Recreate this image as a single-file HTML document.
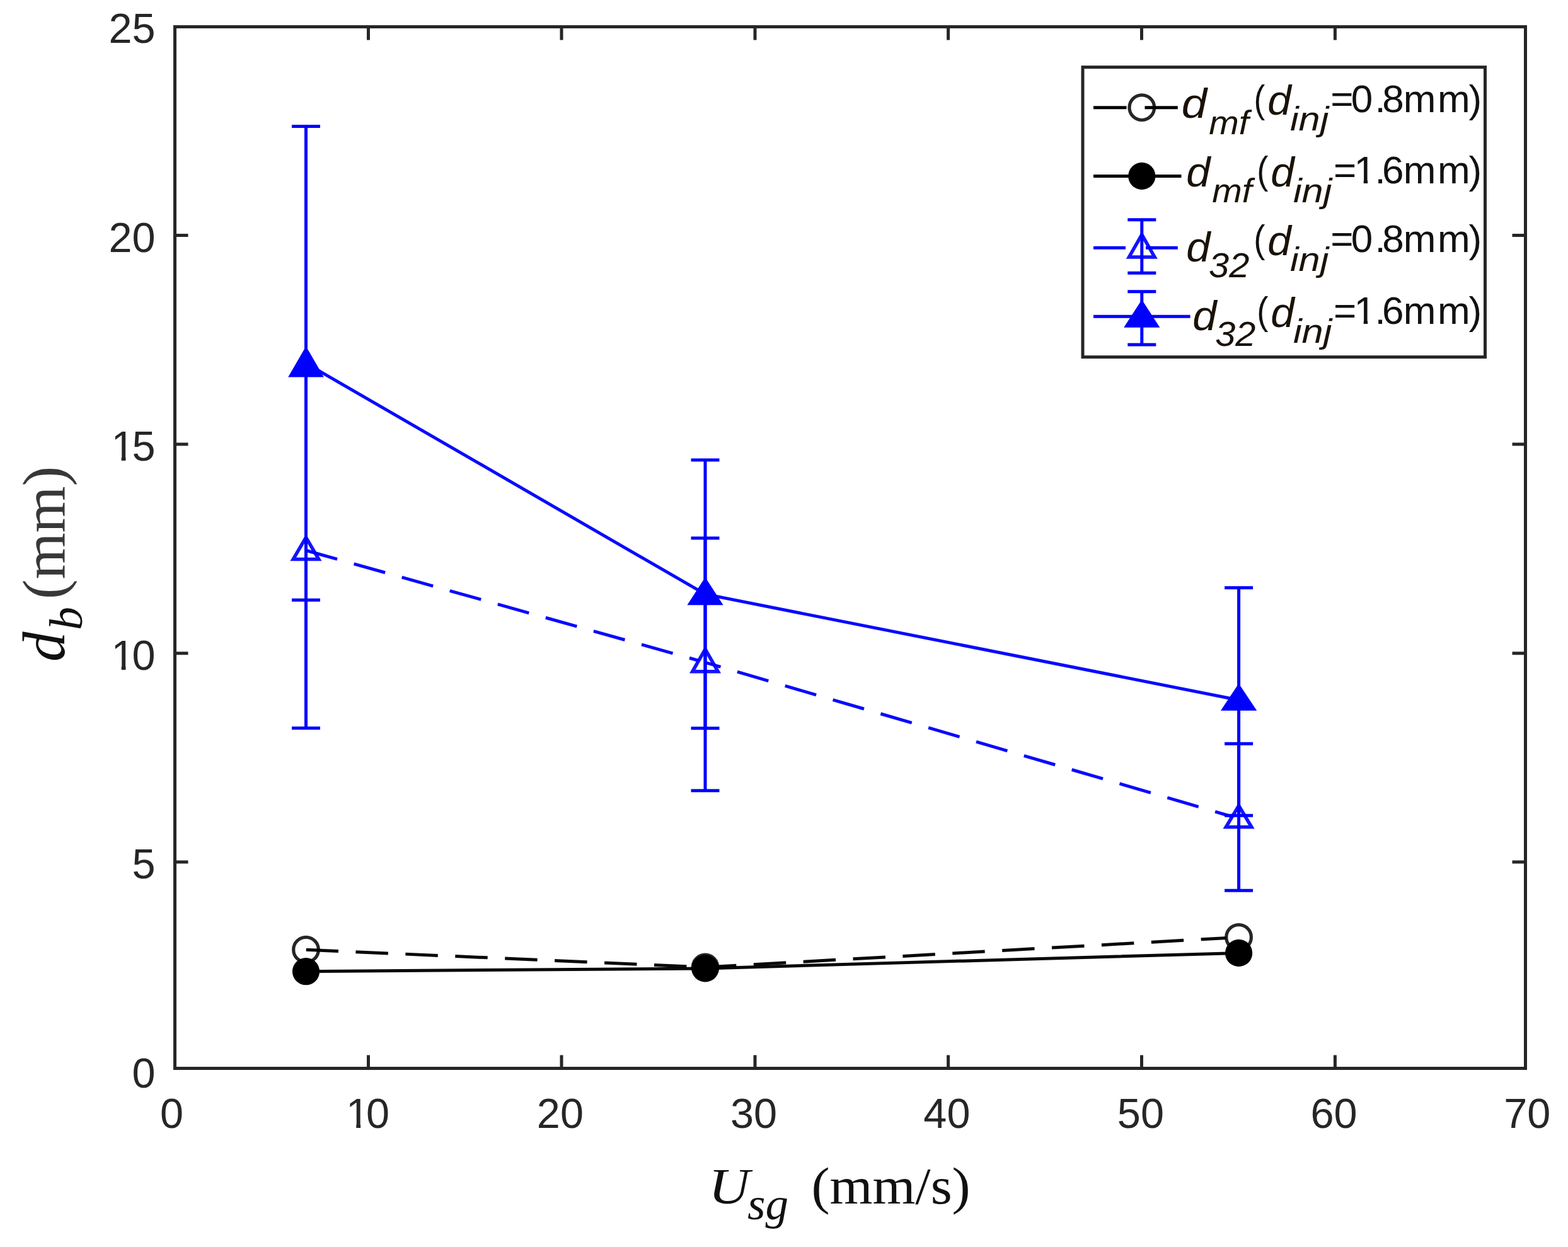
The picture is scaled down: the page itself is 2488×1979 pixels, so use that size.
<!DOCTYPE html>
<html lang="en"><head><meta charset="utf-8"><title>Bubble diameter vs superficial gas velocity</title>
<style>
html,body{margin:0;padding:0;background:#fff;}
body{width:2488px;height:1979px;overflow:hidden;}
svg{display:block;}
text{white-space:pre;}
.tk{font-family:"Liberation Sans",sans-serif;font-size:66.6px;fill:#262626;}
.lg{font-family:"Liberation Sans",sans-serif;font-size:60px;fill:#111;}
.li{font-family:"Liberation Sans",sans-serif;font-size:60px;font-style:italic;fill:#1a1208;}
.ls{font-family:"Liberation Sans",sans-serif;font-size:48px;font-style:italic;fill:#1a1208;}
.xr{font-family:"Liberation Serif",serif;font-size:86px;fill:#111;}
.xi{font-family:"Liberation Serif",serif;font-size:86px;font-style:italic;fill:#111;}
.xs{font-family:"Liberation Serif",serif;font-size:72px;font-style:italic;fill:#111;}
.yr{font-family:"Liberation Serif",serif;font-size:95px;fill:#383838;}
.yi{font-family:"Liberation Serif",serif;font-size:95px;font-style:italic;fill:#111;}
.ys{font-family:"Liberation Serif",serif;font-size:74px;font-style:italic;fill:#111;}
</style></head><body>
<svg width="2488" height="1979" viewBox="0 0 2488 1979">
<rect x="0" y="0" width="2488" height="1979" fill="#ffffff"/>
<g id="series">
<polyline points="485.5,1507.2 1119.0,1535.0 1965.6,1487.4" fill="none" stroke="#000" stroke-opacity="0.96" stroke-width="5" stroke-dasharray="51.5 27.5"/>
<path d="M485.5 1487.4A19.8 19.8 0 0 0 485.5 1527.0Z" fill="#fff"/>
<circle cx="485.5" cy="1507.2" r="19.8" fill="none" stroke="#000" stroke-opacity="0.85" stroke-width="5.2"/>
<path d="M1119.0 1515.2A19.8 19.8 0 0 0 1119.0 1554.8Z" fill="#fff"/>
<circle cx="1119.0" cy="1535.0" r="19.8" fill="none" stroke="#000" stroke-opacity="0.85" stroke-width="5.2"/>
<path d="M1965.6 1467.6A19.8 19.8 0 0 0 1965.6 1507.2Z" fill="#fff"/>
<circle cx="1965.6" cy="1487.4" r="19.8" fill="none" stroke="#000" stroke-opacity="0.85" stroke-width="5.2"/>
<polyline points="485.5,1541.7 1119.0,1536.9 1965.6,1512.4" fill="none" stroke="#000" stroke-opacity="0.96" stroke-width="5"/>
<circle cx="485.5" cy="1541.7" r="21.6" fill="#000"/>
<circle cx="1119.0" cy="1536.9" r="21.6" fill="#000"/>
<circle cx="1965.6" cy="1512.4" r="21.6" fill="#000"/>
<polyline points="485.5,873.5 1119.0,1051.3 1965.6,1299.0" fill="none" stroke="#0000ff" stroke-opacity="0.96" stroke-width="5" stroke-dasharray="51.5 27.5"/>
<polygon points="485.5,852.9 465.2,887.6 485.5,887.6" fill="#fff"/>
<polygon points="1119.0,1030.3 1098.7,1065.8 1119.0,1065.8" fill="#fff"/>
<polygon points="1965.6,1278.7 1945.3,1312.6 1965.6,1312.6" fill="#fff"/>
<path d="M485.5 591.4V1155.6" stroke="#0000ff" stroke-width="5" fill="none"/><path d="M463.0 591.4H508.0M463.0 1155.6H508.0" stroke="#0000ff" stroke-width="5" fill="none"/>
<path d="M1119.0 853.9V1254.8" stroke="#0000ff" stroke-width="5" fill="none"/><path d="M1096.5 853.9H1141.5M1096.5 1254.8H1141.5" stroke="#0000ff" stroke-width="5" fill="none"/>
<path d="M1965.6 1180.2V1413.3" stroke="#0000ff" stroke-width="5" fill="none"/><path d="M1943.1 1180.2H1988.1M1943.1 1413.3H1988.1" stroke="#0000ff" stroke-width="5" fill="none"/>
<polygon points="485.5,852.9 465.2,887.6 505.8,887.6" fill="none" stroke="#0000ff" stroke-opacity="0.92" stroke-width="5.5" stroke-linejoin="miter" stroke-miterlimit="10"/>
<polygon points="1119.0,1030.3 1098.7,1065.8 1139.3,1065.8" fill="none" stroke="#0000ff" stroke-opacity="0.92" stroke-width="5.5" stroke-linejoin="miter" stroke-miterlimit="10"/>
<polygon points="1965.6,1278.7 1945.3,1312.6 1985.9,1312.6" fill="none" stroke="#0000ff" stroke-opacity="0.92" stroke-width="5.5" stroke-linejoin="miter" stroke-miterlimit="10"/>
<polyline points="485.5,576.5 1119.0,943.0 1965.6,1111.0" fill="none" stroke="#0000ff" stroke-opacity="0.96" stroke-width="5"/>
<path d="M485.5 200.6V952.3" stroke="#0000ff" stroke-width="5" fill="none"/><path d="M463.0 200.6H508.0M463.0 952.3H508.0" stroke="#0000ff" stroke-width="5" fill="none"/>
<path d="M1119.0 729.9V1155.8" stroke="#0000ff" stroke-width="5" fill="none"/><path d="M1096.5 729.9H1141.5M1096.5 1155.8H1141.5" stroke="#0000ff" stroke-width="5" fill="none"/>
<path d="M1965.6 932.7V1294.3" stroke="#0000ff" stroke-width="5" fill="none"/><path d="M1943.1 932.7H1988.1M1943.1 1294.3H1988.1" stroke="#0000ff" stroke-width="5" fill="none"/>
<polygon points="485.5,554.4 461.5,595.9 509.5,595.9" fill="#0000ff" stroke="#0000ff" stroke-width="5" stroke-linejoin="miter" stroke-miterlimit="10"/>
<polygon points="1119.0,920.7 1095.0,957.8 1143.0,957.8" fill="#0000ff" stroke="#0000ff" stroke-width="5" stroke-linejoin="miter" stroke-miterlimit="10"/>
<polygon points="1965.6,1089.2 1941.6,1125.3 1989.6,1125.3" fill="#0000ff" stroke="#0000ff" stroke-width="5" stroke-linejoin="miter" stroke-miterlimit="10"/>
</g>
<g id="axes" stroke="#262626" stroke-width="5" fill="none">
<rect x="277.5" y="42.5" width="2143.0" height="1653.0"/>
<path d="M584.5 1695.5V1674.5M584.5 42.5V63.5M891.0 1695.5V1674.5M891.0 42.5V63.5M1198.0 1695.5V1674.5M1198.0 42.5V63.5M1504.6 1695.5V1674.5M1504.6 42.5V63.5M1811.5 1695.5V1674.5M1811.5 42.5V63.5M2118.4 1695.5V1674.5M2118.4 42.5V63.5M277.5 373.6H298.5M2420.5 373.6H2399.5M277.5 705.0H298.5M2420.5 705.0H2399.5M277.5 1036.8H298.5M2420.5 1036.8H2399.5M277.5 1368.1H298.5M2420.5 1368.1H2399.5"/>
</g>
<g id="ticklabels" class="tk">
<text x="272.4" y="1790.3" text-anchor="middle">0</text>
<text x="888.9" y="1790.3" text-anchor="middle">20</text>
<text x="1196.1" y="1790.3" text-anchor="middle">30</text>
<text x="1502.4" y="1790.3" text-anchor="middle">40</text>
<text x="1809.9" y="1790.3" text-anchor="middle">50</text>
<text x="2116.6" y="1790.3" text-anchor="middle">60</text>
<text x="2423.3" y="1790.3" text-anchor="middle">70</text>
<text x="549.0 580.9" y="1790.3">10</text>
<rect x="552.33" y="1784.84" width="12.92" height="6.66" fill="#fff"/><rect x="572.11" y="1784.84" width="11.99" height="6.66" fill="#fff"/>
<text x="246.5" y="68.3" text-anchor="end">25</text>
<text x="246.5" y="399.8" text-anchor="end">20</text>
<text x="246.5" y="1394.4" text-anchor="end">5</text>
<text x="246.5" y="1726.2" text-anchor="end">0</text>
<text x="176.4 209.46" y="731.3">15</text>
<rect x="179.73" y="725.84" width="12.92" height="6.66" fill="#fff"/><rect x="199.51" y="725.84" width="11.99" height="6.66" fill="#fff"/>
<text x="176.4 209.46" y="1063.1">10</text>
<rect x="179.73" y="1057.64" width="12.92" height="6.66" fill="#fff"/><rect x="199.51" y="1057.64" width="11.99" height="6.66" fill="#fff"/>
</g>
<g id="xlabel">
<text class="xi" style="font-size:81px" transform="translate(1124.16 1909.50) scale(1.1165 1)">U</text>
<text class="xs" style="font-size:72px" transform="translate(1186.07 1934.60) scale(1.0146 1)">sg</text>
<text class="xr" style="font-size:83px" transform="translate(1287.41 1909.80) scale(1.0525 1)">(mm/s)</text>
</g>
<g id="ylabel" transform="translate(101.5 1050) rotate(-90)">
<text class="yi" x="0" y="0">d</text>
<text class="ys" x="50" y="28">b</text>
<text class="yr" x="99" y="0">(mm)</text>
</g>
<g id="legend">
<rect x="1718" y="106.6" width="638.5" height="460" fill="#fff" stroke="#262626" stroke-width="5"/>
<path d="M1735.0 170.7H1787.5M1816.5 170.7H1868.8" stroke="#000" stroke-width="5" fill="none"/>
<circle cx="1811.8" cy="170.7" r="19.8" fill="none" stroke="#000" stroke-opacity="0.85" stroke-width="5.2"/>
<path d="M1735.0 279.4H1874.5" stroke="#000" stroke-width="5" fill="none"/>
<circle cx="1811.8" cy="279.4" r="21.6" fill="#000"/>
<path d="M1735.0 393.3H1786.0M1818.0 393.3H1868.8" stroke="#0000ff" stroke-width="5" fill="none"/>
<path d="M1811.8 348.7V433.2" stroke="#0000ff" stroke-width="5" fill="none"/><path d="M1789.3 348.7H1834.3M1789.3 433.2H1834.3" stroke="#0000ff" stroke-width="5" fill="none"/>
<polygon points="1811.8,372.4 1791.5,408.0 1832.1,408.0" fill="none" stroke="#0000ff" stroke-opacity="0.92" stroke-width="5.5" stroke-linejoin="miter" stroke-miterlimit="10"/>
<path d="M1735.0 502.2H1888.6" stroke="#0000ff" stroke-width="5" fill="none"/>
<path d="M1811.8 462.7V547.0" stroke="#0000ff" stroke-width="5" fill="none"/><path d="M1789.3 462.7H1834.3M1789.3 547.0H1834.3" stroke="#0000ff" stroke-width="5" fill="none"/>
<polygon points="1811.8,480.1 1787.8,517.2 1835.8,517.2" fill="#0000ff" stroke="#0000ff" stroke-width="5" stroke-linejoin="miter" stroke-miterlimit="10"/>
<text class="li" style="font-size:66px" transform="translate(1874.83 187.00) scale(1.0975 1)">d</text>
<text class="ls" style="font-size:54px" transform="translate(1918.34 212.60) scale(1.0566 1)">mf</text>
<text class="lg" style="font-size:62px" transform="translate(1989.50 177.50) scale(0.8602 1)">(</text>
<text class="li" style="font-size:66px" transform="translate(2011.18 182.00) scale(1.0210 1)">d</text>
<text class="ls" style="font-size:54px" transform="translate(2046.98 206.90) scale(1.1367 1)">inj</text>
<text class="lg" style="font-size:62px" x="2111.17 2143.85 2181.62 2193.30 2226.67 2280.96 2330.52" y="177.50">=0.8mm)</text>
<text class="li" style="font-size:66px" transform="translate(1882.15 295.70) scale(1.0374 1)">d</text>
<text class="ls" style="font-size:54px" transform="translate(1923.34 321.40) scale(1.0566 1)">mf</text>
<text class="lg" style="font-size:62px" transform="translate(1994.23 290.80) scale(0.8781 1)">(</text>
<text class="li" style="font-size:66px" transform="translate(2016.18 295.70) scale(1.0210 1)">d</text>
<text class="ls" style="font-size:54px" transform="translate(2051.98 320.70) scale(1.1367 1)">inj</text>
<text class="lg" style="font-size:62px" x="2115.92 2148.61 2181.62 2192.99 2226.67 2280.96 2330.52" y="290.80">=1.6mm)</text>
<rect x="2151.71" y="285.72" width="12.03" height="6.20" fill="#fff"/><rect x="2170.12" y="285.72" width="11.16" height="6.20" fill="#fff"/>
<text class="li" style="font-size:66px" transform="translate(1882.15 414.90) scale(1.0374 1)">d</text>
<text class="ls" style="font-size:55px" transform="translate(1918.04 440.10) scale(1.0511 1)">32</text>
<text class="lg" style="font-size:62px" transform="translate(1989.23 400.10) scale(0.8781 1)">(</text>
<text class="li" style="font-size:66px" transform="translate(2011.18 404.80) scale(1.0210 1)">d</text>
<text class="ls" style="font-size:54px" transform="translate(2046.98 430.00) scale(1.1367 1)">inj</text>
<text class="lg" style="font-size:62px" x="2111.17 2143.85 2181.62 2193.30 2226.67 2280.96 2330.52" y="400.10">=0.8mm)</text>
<text class="li" style="font-size:66px" transform="translate(1892.14 523.90) scale(1.0401 1)">d</text>
<text class="ls" style="font-size:55px" transform="translate(1928.15 548.90) scale(1.0494 1)">32</text>
<text class="lg" style="font-size:62px" transform="translate(1994.23 513.90) scale(0.8781 1)">(</text>
<text class="li" style="font-size:66px" transform="translate(2016.18 519.20) scale(1.0210 1)">d</text>
<text class="ls" style="font-size:54px" transform="translate(2051.98 543.50) scale(1.1367 1)">inj</text>
<text class="lg" style="font-size:62px" x="2115.92 2148.61 2181.62 2192.99 2226.67 2280.96 2330.52" y="513.90">=1.6mm)</text>
<rect x="2151.71" y="508.82" width="12.03" height="6.20" fill="#fff"/><rect x="2170.12" y="508.82" width="11.16" height="6.20" fill="#fff"/>
</g>
</svg>
</body></html>
